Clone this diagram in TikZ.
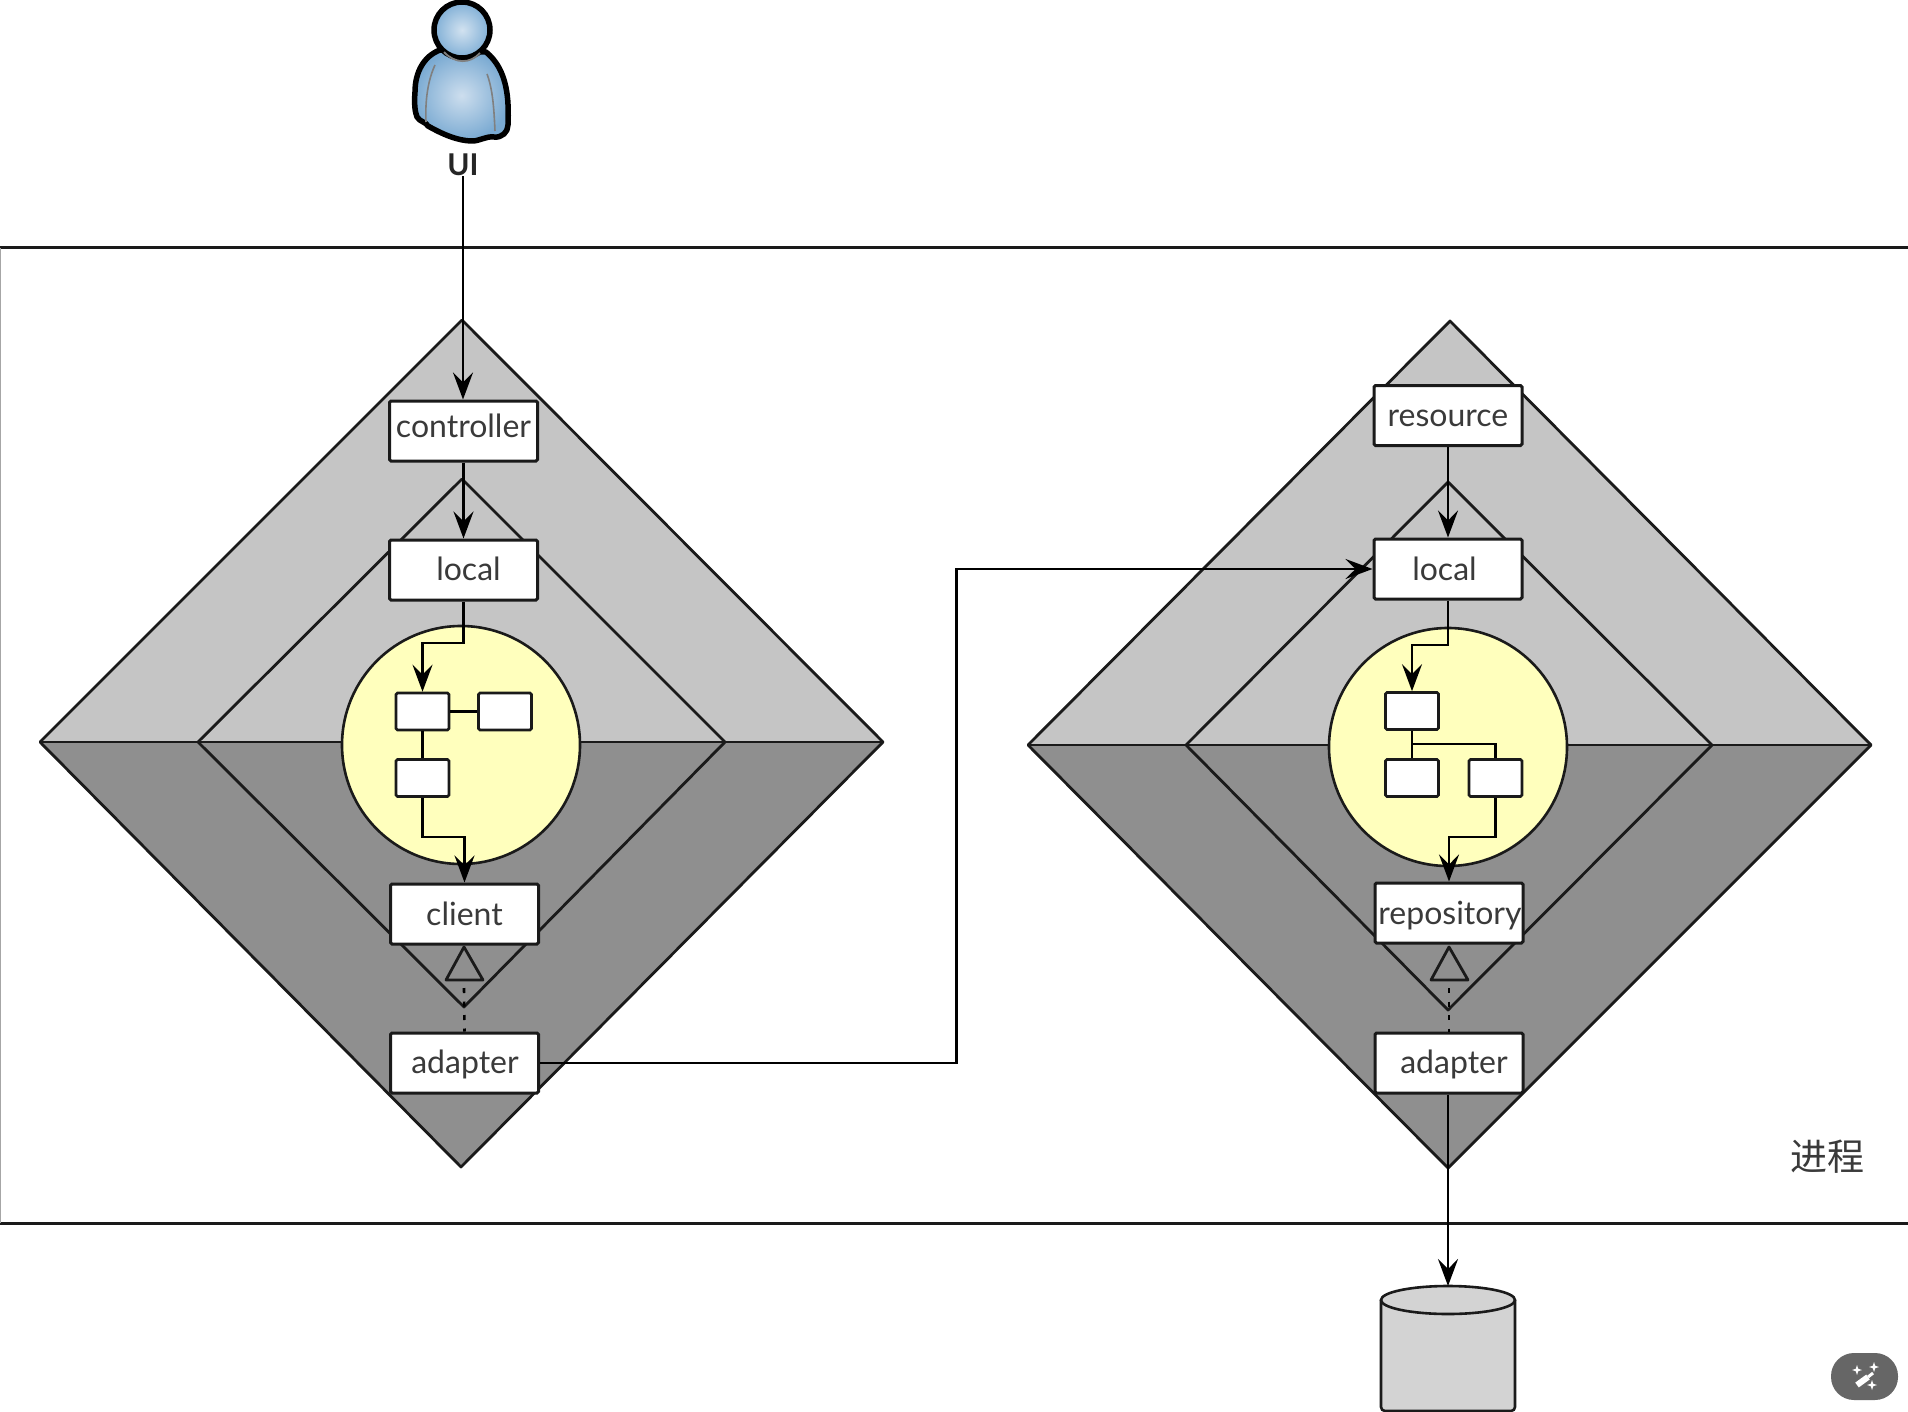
\documentclass[tikz,border=0pt]{standalone}
\usepackage{fontspec}
\setmainfont{Lato}
\newfontfamily\cjk{Noto Sans CJK SC}
\usetikzlibrary{arrows.meta}
\definecolor{lightg}{HTML}{C5C5C5}
\definecolor{darkg}{HTML}{8F8F8F}
\definecolor{ballc}{HTML}{FFFFBD}
\definecolor{cylc}{HTML}{D3D3D3}
\definecolor{inkc}{HTML}{1A1A1A}
\definecolor{txtc}{HTML}{3A3A3A}
\definecolor{bodyin}{RGB}{205,222,238}
\definecolor{bodyout}{RGB}{122,170,210}
\definecolor{headin}{RGB}{210,226,240}
\definecolor{headout}{RGB}{128,175,214}
\newcommand{\tx}[3]{\hspace*{#1}\raisebox{#2}[\height][\depth]{#3}}
\tikzset{
  x=1pt,y=-1pt,
  ln/.style={line width=2.8pt,draw=inkc,line join=round},
  conn/.style={line width=2.6pt,draw=black,-{Stealth[length=27pt,width=20pt,inset=10pt]}},
  plain/.style={line width=2.6pt,draw=black},
  bigbox/.style={draw=inkc,line width=3pt,fill=white,rounded corners=1.5pt,minimum width=148pt,minimum height=60pt,inner sep=0pt,font=\fontsize{32}{36}\selectfont,text=txtc},
  smallbox/.style={draw=inkc,line width=2.6pt,fill=white,rounded corners=1.5pt,minimum width=53pt,minimum height=37pt,inner sep=0pt},
  ball/.style={draw=inkc,line width=2.6pt,fill=ballc,circle,minimum size=238pt,inner sep=0pt},
}
\newcommand{\diamondpair}[7]{%
  \fill[lightg] (#1,#2)--(#3,#5)--(#4,#5)--cycle;
  \fill[darkg] (#3,#5)--(#4,#5)--(#6,#7)--cycle;
  \draw[ln] (#1,#2)--(#3,#5)--(#6,#7)--(#4,#5)--cycle;
  \draw[ln] (#3,#5)--(#4,#5);
}
\begin{document}
\begin{tikzpicture}
\useasboundingbox (0,0) rectangle (1908,1412);
\fill[white] (0,0) rectangle (1908,1412);
% process band
\draw[line width=3pt,draw=inkc] (-3,248) -- (1912,248);
\draw[line width=3pt,draw=inkc] (-3,1223) -- (1912,1223);
\draw[line width=1pt,draw=black!35] (0.5,248) -- (0.5,1223);
\node[text=txtc,font=\cjk\fontsize{37}{40}\selectfont] (proc) at (1827,1157) {进程};

% left diamonds
\diamondpair{462}{320}{40}{883}{742}{461}{1167}
\diamondpair{462}{479}{198}{725}{742}{464}{1007}
% right diamonds
\diamondpair{1450}{321}{1028}{1871}{745}{1448}{1168}
\diamondpair{1448}{482}{1186}{1712}{745}{1448}{1010}

% circles
\node[ball] (cl) at (461,745) {};
\node[ball] (cr) at (1448,747) {};

% person
\draw[line width=5.5pt,draw=black,line join=round,shading=radial,inner color=bodyin,outer color=bodyout]
  (440,50) .. controls (424,56) and (415,72) .. (415,92)
  .. controls (414,104) and (415,112) .. (417,117)
  .. controls (420,122) and (426,122) .. (428,126)
  .. controls (442,134) and (458,141) .. (472,141)
  .. controls (480,141) and (486,136) .. (494,137)
  .. controls (502,138) and (508,132) .. (508,125)
  .. controls (509,100) and (508,70) .. (486,52)
  -- cycle;
\draw[line width=1.6pt,draw=black!50] (435,65) .. controls (428,80) and (425,100) .. (426,122);
\draw[line width=1.6pt,draw=black!50] (487,74) .. controls (493,90) and (494,110) .. (495,131);
\draw[line width=5.5pt,draw=black,shading=radial,inner color=headin,outer color=headout] (462,30) circle[radius=28];
\draw[line width=1.8pt,draw=black!50] (444,52) .. controls (455,64) and (470,64) .. (480,53);
\node[inner sep=0pt,text=black!85,font=\fontsize{30}{32}\selectfont\bfseries] (ui) at (463,165) {UI};

% left boxes
\node[bigbox] (controller) at (463.5,431) {\tx{0pt}{5pt}{controller}};
\node[bigbox] (locall) at (463.5,570) {\tx{10pt}{1pt}{local}};
\node[bigbox] (client) at (464.5,914) {client};
\node[bigbox] (adapterl) at (464.5,1063) {\tx{1pt}{-1pt}{adapter}};
\node[smallbox] (a1) at (422.5,711.5) {};
\node[smallbox] (a2) at (505,711.5) {};
\node[smallbox] (a3) at (422.5,778) {};

% right boxes
\node[bigbox] (resource) at (1448,415.5) {\tx{0pt}{-2.5pt}{resource}};
\node[bigbox] (localr) at (1448,569) {\hspace*{-7pt}\tx{0pt}{0pt}{local}};
\node[bigbox] (repo) at (1449,913) {\tx{2pt}{-2.5pt}{repository}};
\node[bigbox] (adapterr) at (1449,1063) {\tx{10pt}{-1pt}{adapter}};
\node[smallbox] (b1) at (1412,711) {};
\node[smallbox] (b2) at (1412,778) {};
\node[smallbox] (b3) at (1495.5,778) {};

% cylinder
\draw[line width=2.6pt,draw=inkc,fill=cylc,rounded corners=4pt] (1381,1300) -- (1381,1411) -- (1515,1411) -- (1515,1300);
\draw[line width=2.6pt,draw=inkc,fill=cylc] (1448,1300) ellipse[x radius=67,y radius=14];
\coordinate (cylt) at (1448,1286);

% triangles
\draw[ln] (464,947) -- (446,980) -- (483,980) -- cycle;
\draw[ln] (1449,947) -- (1431,980) -- (1468,980) -- cycle;
\coordinate (tl) at (464,988);
\coordinate (tr) at (1449,988);
\draw[line width=2.6pt,draw=black,dash pattern=on 5pt off 8.5pt] (tl) -- (adapterl.north);
\draw[line width=2.6pt,draw=black,dash pattern=on 5pt off 8.5pt] (tr) -- (adapterr.north);

% connectors
\draw[conn] (ui.south) -- (controller.north -| ui.south);
\draw[conn] (controller.south) -- (locall.north);
\draw[conn] (locall.south) -- (463.5,643) -- (422.5,643) -- (a1.north);
\draw[plain] (a1.east) -- (a2.west);
\draw[plain] (a1.south) -- (a3.north);
\draw[conn] (a3.south) -- (422.5,837) -- (464.5,837) -- (client.north);

\draw[conn] (resource.south) -- (localr.north);
\draw[conn] (localr.south) -- (1448,645) -- (1412,645) -- (b1.north);
\draw[plain] (b1.south) -- (b2.north);
\draw[plain] (1412,744) -- (1495.5,744) -- (b3.north);
\draw[conn] (b3.south) -- (1495.5,837) -- (1449,837) -- (repo.north);

\draw[conn] (adapterl.east) -- (956.5,1063) |- (localr.west);
\draw[conn] (adapterr.south -| cylt) -- (cylt);

% overlay button
\fill[black!60,rounded corners=23pt] (1831,1353) rectangle (1898,1400);
\draw[white,line width=6pt] (1857,1385) -- (1868,1377);
\draw[white,line width=3pt] (1868,1377) -- (1873,1373);
\foreach \sx/\sy in {1857/1370,1874/1367,1872/1385}{
  \fill[white] (\sx,\sy-5) -- (\sx+1.2,\sy-1.2) -- (\sx+5,\sy) -- (\sx+1.2,\sy+1.2) -- (\sx,\sy+5) -- (\sx-1.2,\sy+1.2) -- (\sx-5,\sy) -- (\sx-1.2,\sy-1.2) -- cycle;
}
\end{tikzpicture}
\end{document}
